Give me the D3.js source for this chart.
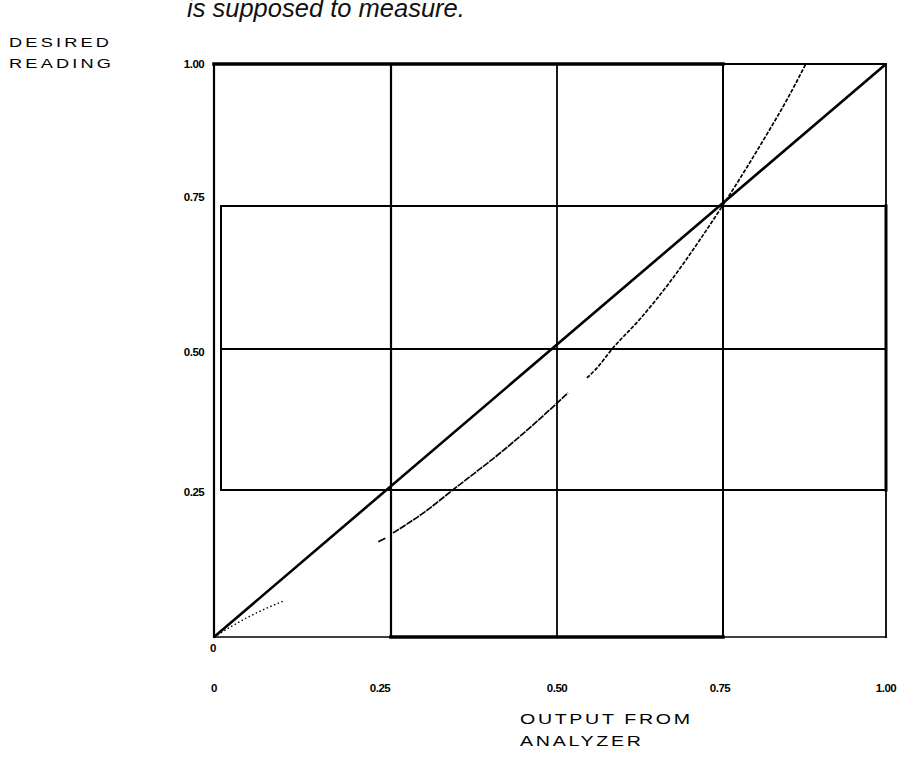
<!DOCTYPE html>
<html><head><meta charset="utf-8">
<script src="https://cdn.jsdelivr.net/npm/d3@7"></script>
<style>body{margin:0;background:#fff}svg{display:block}</style>
</head><body>
<script>
// ---- data ----
const gridValues = [0, 0.25, 0.5, 0.75, 1];
const xTickLabels = ["0", "0.25", "0.50", "0.75", "1.00"];
const yTickLabels = ["0", "0.25", "0.50", "0.75", "1.00"];
const idealX = [0, 1];
const idealY = [0, 1];
// measured (analyzer) curve, as separate traced pieces
const curveSegX = [
  [0, 0.05, 0.0975],
  [0.232, 0.242],
  [0.253, 0.30, 0.343, 0.4217, 0.461, 0.5, 0.5166],
  [0.545, 0.56, 0.583, 0.625, 0.670, 0.715, 0.753, 0.814, 0.848, 0.877]
];
const curveSegY = [
  [0, 0.035, 0.061],
  [0.162, 0.168],
  [0.177, 0.212, 0.25, 0.3227, 0.3624, 0.404, 0.4223],
  [0.4486, 0.466, 0.5, 0.5524, 0.617, 0.6906, 0.757, 0.870, 0.937, 1.0]
];

const W = 913, H = 757;
const svg = d3.select("body").append("svg").attr("width", W).attr("height", H);

const x = d3.scaleLinear().domain(gridValues).range([214, 391, 557, 723, 886]);
const y = d3.scaleLinear().domain(gridValues).range([637, 490, 349, 206, 64]);

function seg(x1, y1, x2, y2, w) {
  svg.append("line").attr("x1", x1).attr("y1", y1).attr("x2", x2).attr("y2", y2)
    .attr("stroke", "#000").attr("stroke-width", w).attr("stroke-linecap", "square");
}

// vertical grid lines
seg(x(0), y(1), x(0), y(0), 2.2);
seg(x(0.25), y(1), x(0.25), y(0), 2.2);
seg(x(0.5), y(1), x(0.5), y(0), 1.8);
seg(x(0.75), y(1), x(0.75), y(0), 2);
seg(x(1), y(1), x(1), y(0), 1.8);
seg(x(1), y(0.75), x(1), y(0.25), 3);
// inner box left edge
seg(x(0) + 7, y(0.75), x(0) + 7, y(0.25), 2);
// horizontal lines
seg(x(0), y(1), x(0.75), y(1), 3.5);
seg(x(0.75), y(1), x(1), y(1), 2);
[0.75, 0.5, 0.25].forEach(v => seg(x(0) + 7, y(v), x(1), y(v), 1.8));
seg(x(0), y(0), x(1), y(0), 1.6);
seg(x(0.25), y(0), x(0.75), y(0), 3.5);

// ideal line
const line = d3.line().x(d => x(d[0])).y(d => y(d[1]));
svg.append("path").datum(idealX.map((v, i) => [v, idealY[i]]))
  .attr("d", line).attr("fill", "none").attr("stroke", "#000").attr("stroke-width", 2.6);

// measured curve
const curveLine = d3.line().x(d => x(d[0])).y(d => y(d[1])).curve(d3.curveMonotoneX);
const dashes = ["1.5,2.5", null, "7,1", "4,1.5"];
const widths = [1.4, 1.8, 1.7, 1.7];
curveSegX.forEach((xs, k) => {
  svg.append("path").datum(xs.map((v, i) => [v, curveSegY[k][i]]))
    .attr("d", curveLine).attr("fill", "none").attr("stroke", "#000")
    .attr("stroke-width", widths[k]).attr("stroke-dasharray", dashes[k]);
});

// tick labels
const tickFont = "Liberation Sans, Arial, sans-serif";
const xNudge = [0, -11, 0, -3, 0];
gridValues.forEach((v, i) => {
  svg.append("text").attr("x", x(v) + xNudge[i]).attr("y", 692)
    .attr("text-anchor", "middle").attr("font-family", tickFont).attr("font-weight", 900)
    .attr("font-size", 11.5).attr("letter-spacing", -0.5).text(xTickLabels[i]);
});
const yNudge = [11, 2, 3, -9, 0];
gridValues.forEach((v, i) => {
  const isZero = i === 0;
  svg.append("text").attr("x", isZero ? 213 : 194).attr("y", y(v) + yNudge[i] + 4)
    .attr("text-anchor", "middle").attr("font-family", tickFont).attr("font-weight", 900)
    .attr("font-size", 11.5).attr("letter-spacing", -0.5).text(yTickLabels[i]);
});

// axis titles (wide, letter-spaced capitals)
function title(txt, tx, ty, size, len) {
  const sx = 1.4;
  svg.append("text").attr("transform", `translate(${tx},${ty}) scale(${sx},1)`)
    .attr("font-family", tickFont)
    .attr("font-size", size).attr("font-weight", 400).attr("fill", "#000")
    .attr("textLength", len / sx).attr("lengthAdjust", "spacing").text(txt);
}
title("DESIRED", 9, 47, 13, 100);
title("READING", 9, 68, 13, 102);
title("OUTPUT FROM", 520, 724, 14, 170);
title("ANALYZER", 520, 746, 14, 121);

// caption fragment at top
svg.append("text").attr("x", 187).attr("y", 17).attr("font-family", tickFont)
  .attr("font-style", "italic").attr("font-size", 25.5).attr("fill", "#111")
  .text("is supposed to measure.");
</script>
</body></html>
